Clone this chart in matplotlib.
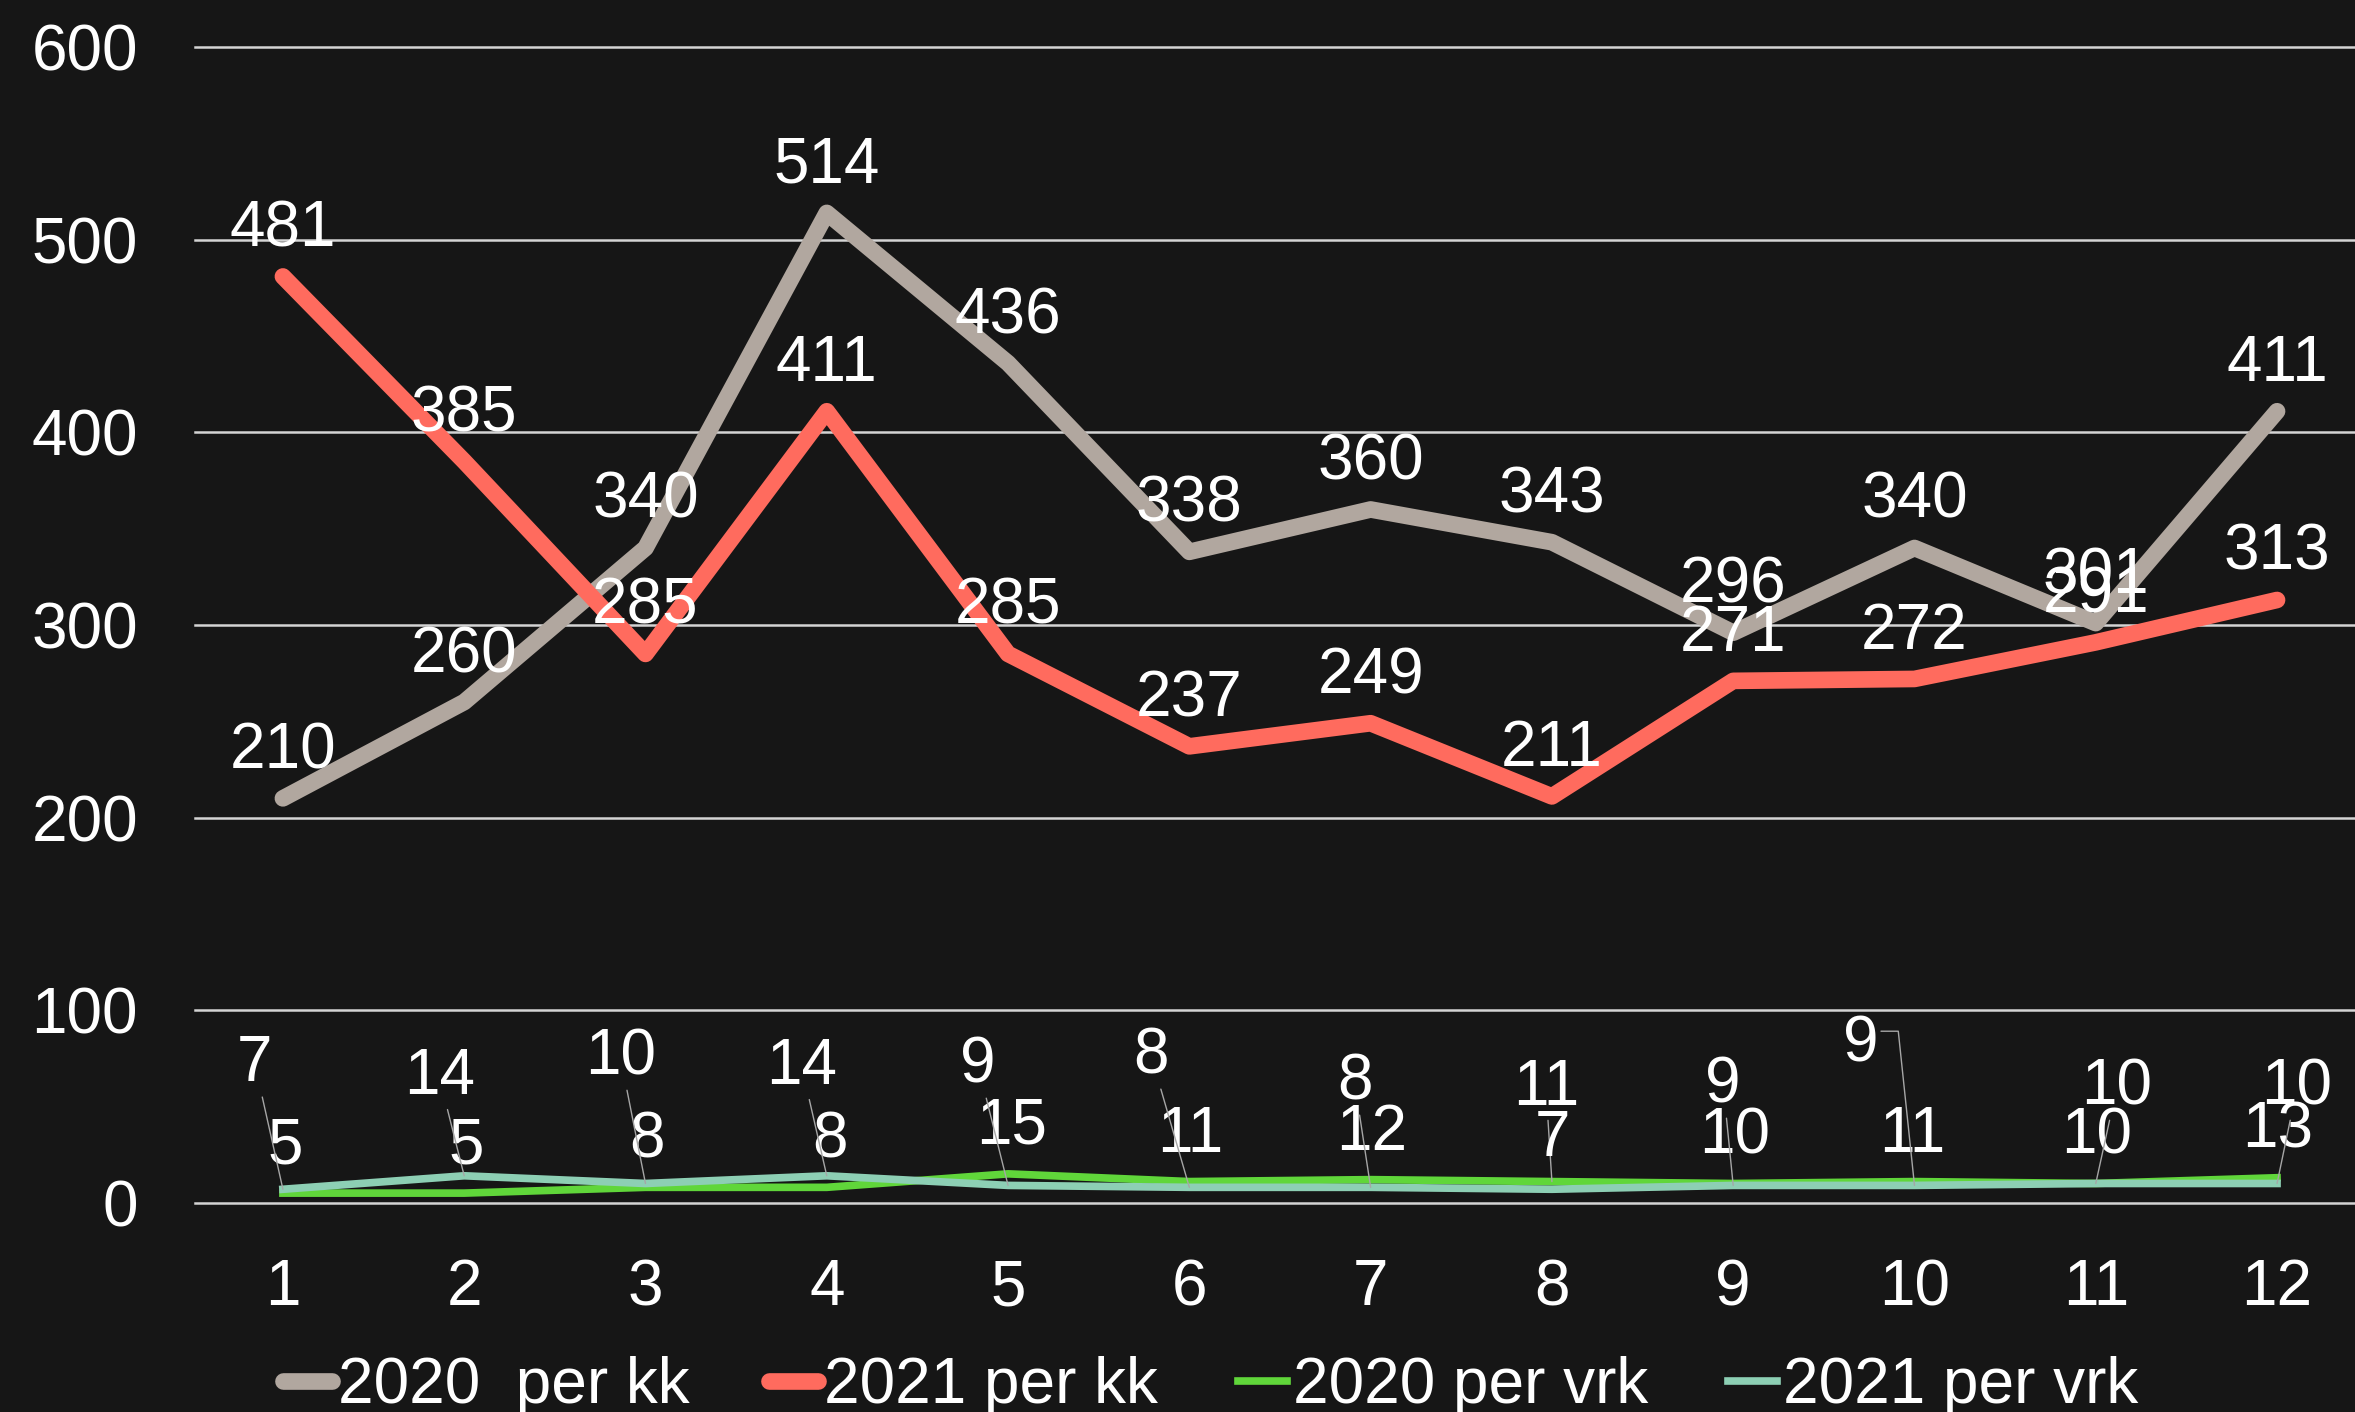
import matplotlib.pyplot as plt

# Data
months = list(range(1, 13))
kk_2020 = [210, 260, 340, 514, 436, 338, 360, 343, 296, 340, 301, 411]
kk_2021 = [481, 385, 285, 411, 285, 237, 249, 211, 271, 272, 291, 313]
vrk_2020 = [5, 5, 8, 8, 15, 11, 12, 11, 10, 11, 10, 13]
vrk_2021 = [7, 14, 10, 14, 9, 8, 8, 7, 9, 9, 10, 10]
y_ticks = [0, 100, 200, 300, 400, 500, 600]
names = ['2020  per kk', '2021 per kk', '2020 per vrk', '2021 per vrk']

# Label offsets (pixels) for the small series; far ones get a leader line
vrk20_offsets = [(2, 30), (2, 30), (2, 30), (3, 30), (4, 30), (1, 30),
                 (1, 30), (-6, 77), (1, 30), (-2, 30), (1, 30), (1, 30)]
vrk21_offsets = [(-28, 108), (-25, 82), (-25, 109), (-25, 92), (-30, 103), (-38, 114),
                 (-16, 88), (1, 33), (-10, 83), (-54, 124), (21, 79), (20, 79)]

BG = '#161616'
colors = ['#B1A79F', '#FF6B5E', '#60D63A', '#8DCFB4']
FS = 46

plt.rcParams['font.family'] = ['Liberation Sans', 'DejaVu Sans']

fig = plt.figure(figsize=(23.55, 14.12), dpi=100, facecolor=BG)
ax = fig.add_axes([195 / 2355, 0.1482, 1 - 195 / 2355, 0.8183])
ax.set_facecolor(BG)

for y in y_ticks:
    ax.axhline(y, color='#D4D4D4', lw=1.8, clip_on=False, zorder=1)

ax.plot(months, kk_2020, color=colors[0], lw=12, solid_capstyle='round',
        solid_joinstyle='round', label=names[0], zorder=3)
ax.plot(months, kk_2021, color=colors[1], lw=12, solid_capstyle='round',
        solid_joinstyle='round', label=names[1], zorder=3)
ax.plot(months, vrk_2020, color=colors[2], lw=5.5, solid_joinstyle='round',
        label=names[2], zorder=3)
ax.plot(months, vrk_2021, color=colors[3], lw=5.5, solid_joinstyle='round',
        label=names[3], zorder=3)

# labels of the big series, centred above each point
for series in (kk_2020, kk_2021):
    for m, v in zip(months, series):
        ax.annotate(str(v), (m, v), xytext=(0, 30), textcoords='offset pixels',
                    ha='center', va='baseline', color='white', fontsize=FS, zorder=5)

# labels of the small series
for series, offsets in ((vrk_2020, vrk20_offsets), (vrk_2021, vrk21_offsets)):
    for m, v, (dx, dy) in zip(months, series, offsets):
        if dy > 50:
            if dx < -45:
                arrow = dict(arrowstyle='-', color='#A6A6A6', lw=1, shrinkA=0, shrinkB=0,
                             relpos=(1, 0.72), connectionstyle='angle,angleA=0,angleB=96,rad=0')
            else:
                arrow = dict(arrowstyle='-', color='#A6A6A6', lw=1, shrinkA=0, shrinkB=0)
        else:
            arrow = None
        ax.annotate(str(v), (m, v), xytext=(dx, dy), textcoords='offset pixels',
                    ha='center', va='baseline', color='white', fontsize=FS,
                    arrowprops=arrow, zorder=5)

ax.set_xlim(0.515, 12.43)
ax.set_ylim(0, 600)
ax.set_xticks(months)
ax.set_yticks(y_ticks)
ax.tick_params(axis='both', length=0, colors='white', labelsize=FS)
ax.tick_params(axis='x', pad=40)
ax.tick_params(axis='y', pad=41)
for s in ax.spines.values():
    s.set_visible(False)

leg = fig.legend(loc='center left', bbox_to_anchor=(283 / 2355, 1 - 1386 / 1412),
                 ncol=4, frameon=False, fontsize=FS, handlelength=0.76,
                 handletextpad=0.1, columnspacing=1.25, borderpad=0, borderaxespad=0)
for t in leg.get_texts():
    t.set_color('white')

fig.savefig('out.png', dpi=100, facecolor=BG)
